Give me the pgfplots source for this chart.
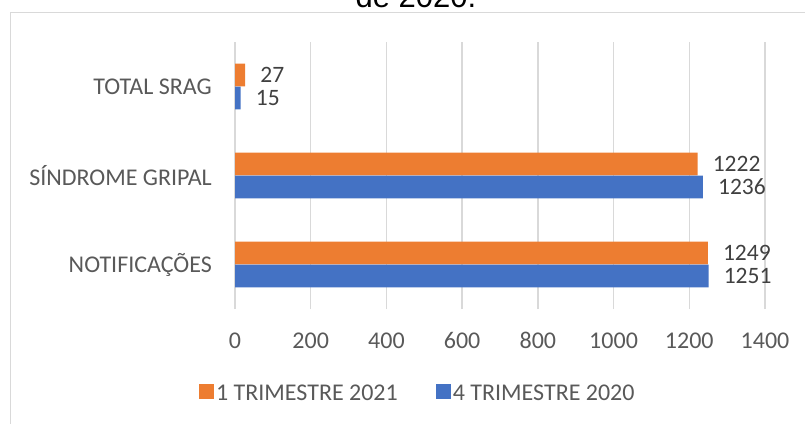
\documentclass[border=0pt]{standalone}
\usepackage{pgfplots}
\pgfplotsset{compat=1.18}
\usepackage{fontspec}
\setmainfont{Carlito}
\newfontfamily\arialfont{Liberation Sans}
\definecolor{cOrange}{HTML}{ED7D31}
\definecolor{cBlue}{HTML}{4472C4}
\definecolor{cGrid}{HTML}{D9D9D9}
\definecolor{cText}{HTML}{595959}
\definecolor{cLabel}{HTML}{404040}
\begin{document}
\begin{tikzpicture}[x=1pt,y=1pt]
\useasboundingbox (0,0) rectangle (805,423);
\draw[cGrid, line width=1.3pt] (10.5,410.5) -- (900,410.5) -- (900,-20) -- (10.5,-20) -- cycle;
\node[anchor=base, font=\arialfont\fontsize{31}{36}\selectfont, text=black] at (416,415) {de 2020.};
\begin{axis}[
  scale only axis,
  width=530pt, height=267pt,
  at={(235pt,114pt)}, anchor=south west,
  xbar,
  xmin=0, xmax=1400, ymin=-0.5, ymax=2.5,
  axis line style={draw=none},
  xtick={0,200,...,1400},
  ytick={0,1,2},
  yticklabels={NOTIFICAÇÕES, SÍNDROME GRIPAL, TOTAL SRAG},
  major tick length=0pt,
  xmajorgrids,
  grid style={cGrid, line width=1.3pt},
  tick label style={font=\fontsize{24}{28}\selectfont, text=cText},
  /pgf/number format/assume math mode=true,
  /pgf/number format/1000 sep={},
  xticklabel style={yshift=-20pt},
  yticklabel style={xshift=-23pt, inner sep=0pt},
  bar width=0.255,
  nodes near coords,
  point meta=x,
  every node near coord/.append style={font=\fontsize{23.5}{27}\selectfont, text=cLabel, anchor=west, inner sep=0pt, xshift=15pt, /pgf/number format/assume math mode=true, /pgf/number format/1000 sep={}},
  legend columns=2,
  legend style={draw=none, fill=none, at={(0.345,-0.318)}, anchor=center,
    font=\fontsize{24}{28}\selectfont, text=cText,
    /tikz/every even column/.append style={column sep=36pt}},
  legend image code/.code={\fill[#1] (0pt,-5.5pt) rectangle (15pt,9.5pt);},
]
\addplot[draw=none, fill=cOrange, bar shift=0.13] coordinates {(1249,0) (1222,1) (27,2)};
\addlegendentry{1 TRIMESTRE 2021}
\addplot[draw=none, fill=cBlue, bar shift=-0.13] coordinates {(1251,0) (1236,1) (15,2)};
\addlegendentry{4 TRIMESTRE 2020}
\end{axis}
\end{tikzpicture}
\end{document}
